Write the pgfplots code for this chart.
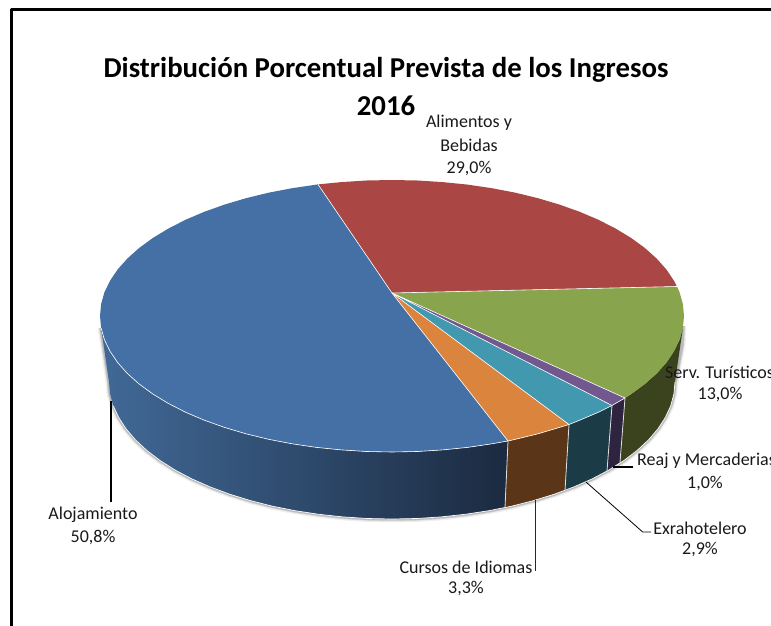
\documentclass[border=0pt]{standalone}
\usepackage{pgfplots}
\pgfplotsset{compat=1.18}
\usepackage{pgfplotstable}
\usepackage{fontspec}
\setmainfont{Carlito}
\definecolor{cBlue}{HTML}{4470A6}
\definecolor{cRed}{HTML}{AA4644}
\definecolor{cGreen}{HTML}{88A44D}
\definecolor{cPurple}{HTML}{71588F}
\definecolor{cTeal}{HTML}{4198AF}
\definecolor{cOrange}{HTML}{DB843D}
\definecolor{sGreen}{HTML}{3A421E}
\definecolor{sPurple}{HTML}{2E2440}
\definecolor{sTeal}{HTML}{1B3C47}
\definecolor{sOrange}{HTML}{5A3517}
\definecolor{sBlueA}{HTML}{416997}
\definecolor{sBlueB}{HTML}{2A4362}
\definecolor{sBlueC}{HTML}{1B2A40}
\pgfplotstableread{
x y
683 326
682 345
675 382
673.9 393.9
670.7 405.8
665.3 417.5
657.9 428.9
648.5 439.9
637.1 450.5
623.8 460.6
608.8 470.1
592.1 478.9
573.9 486.9
554.3 494.2
533.5 500.6
511.6 506.2
488.8 510.7
465.2 514.3
441.1 516.9
416.7 518.5
392 519
367.3 518.5
342.9 516.9
318.8 514.3
295.2 510.7
272.4 506.2
250.5 500.6
229.7 494.2
210.1 486.9
191.9 478.9
175.2 470.1
160.2 460.6
146.9 450.5
135.5 439.9
126.1 428.9
118.7 417.5
113.3 405.8
110.1 393.9
109 382
101.1 327.9
}\silhouette
\begin{document}
\begin{tikzpicture}
\clip (0,0) rectangle (771pt,626pt);
\begin{axis}[at={(0,0)},anchor=south west,scale only axis,width=771pt,height=626pt,
  xmin=0,xmax=771,ymin=0,ymax=626,y dir=reverse,hide axis,no markers,clip=true,
  every axis plot/.append style={line join=round}]
% frame
\addplot[black,line width=3.2pt] coordinates {(11.7,640) (11.7,9.3) (790,9.3)};
% shadow
\addplot[gray,opacity=.12,line width=7pt] table[x=x,y=y] {\silhouette};
\addplot[gray,opacity=.22,line width=4.5pt] table[x=x,y=y] {\silhouette};
\addplot[gray,opacity=.35,line width=3pt] table[x=x,y=y] {\silhouette};
% sides
\addplot[shade,shading angle=0,left color=sBlueA,middle color=sBlueB,right color=sBlueC,draw=none] coordinates {
(508,441)(491.9,443.8)(467.6,447.4)(442.7,449.9)(417.5,451.5)(392,452)(366.5,451.5)(341.3,449.9)(316.4,447.4)(292.1,443.8)(268.6,439.3)(246,433.8)(224.5,427.4)(204.3,420.2)(185.5,412.2)(168.3,403.4)(152.8,394)(139.1,384)(127.4,373.5)(117.6,362.5)(110,351.2)(104.4,339.6)(101.1,327.9)(109,382)(110.1,393.9)(113.3,405.8)(118.7,417.5)(126.1,428.9)(135.5,439.9)(146.9,450.5)(160.2,460.6)(175.2,470.1)(191.9,478.9)(210.1,486.9)(229.7,494.2)(250.5,500.6)(272.4,506.2)(295.2,510.7)(318.8,514.3)(342.9,516.9)(367.3,518.5)(392,519)(416.7,518.5)(441.1,516.9)(465.2,514.3)(488.8,510.7)(505,507.7)(508,441)};
\addplot[fill=sOrange,draw=none] coordinates {
(569,424.5)(559.5,427.4)(538,433.8)(515.4,439.3)(508,441)(505,507.7)(511.6,506.2)(533.5,500.6)(554.3,494.2)(565,490.4)(569,424.5)};
\addplot[fill=sTeal,draw=none] coordinates {
(612,405.5)(598.5,412.2)(579.7,420.2)(569,424.5)(565,490.4)(573.9,486.9)(592.1,478.9)(607,471)(612,405.5)};
\addplot[fill=sPurple,draw=none] coordinates {
(625,398)(612,405.5)(607,471)(620,462.5)(625,398)};
\addplot[fill=sGreen,draw=none] coordinates {
(682.9,327.9)(679.6,339.6)(674,351.2)(666.4,362.5)(656.6,373.5)(644.9,384)(631.2,394)(625,398)(620,462.5)(623.8,460.6)(637.1,450.5)(648.5,439.9)(657.9,428.9)(665.3,417.5)(670.7,405.8)(673.9,393.9)(675,382)(682.9,327.9)};
% side separators and lower rim
\addplot[white!75!gray,line width=.8pt] coordinates {(508,441)(505,507.7)};
\addplot[white!75!gray,line width=.8pt] coordinates {(569,424.5)(565,490.4)};
\addplot[white!75!gray,line width=.8pt] coordinates {(612,405.5)(607,471)};
\addplot[white!75!gray,line width=.8pt] coordinates {(625,398)(620,462.5)};
\addplot[white,line width=.7pt] coordinates {(675,382)(673.9,393.9)(670.7,405.8)(665.3,417.5)(657.9,428.9)(648.5,439.9)(637.1,450.5)(623.8,460.6)(608.8,470.1)(592.1,478.9)(573.9,486.9)(554.3,494.2)(533.5,500.6)(511.6,506.2)(488.8,510.7)(465.2,514.3)(441.1,516.9)(416.7,518.5)(392,519)(367.3,518.5)(342.9,516.9)(318.8,514.3)(295.2,510.7)(272.4,506.2)(250.5,500.6)(229.7,494.2)(210.1,486.9)(191.9,478.9)(175.2,470.1)(160.2,460.6)(146.9,450.5)(135.5,439.9)(126.1,428.9)(118.7,417.5)(113.3,405.8)};
% top wedges
\addplot[fill=cBlue,draw=none] coordinates {
(392,293)(318,184.4)(316.4,184.6)(292.1,188.2)(268.6,192.7)(246,198.2)(224.5,204.6)(204.3,211.8)(185.5,219.8)(168.3,228.6)(152.8,238)(139.1,248)(127.4,258.5)(117.6,269.5)(110,280.8)(104.4,292.4)(101.1,304.1)(100,316)(101.1,327.9)(104.4,339.6)(110,351.2)(117.6,362.5)(127.4,373.5)(139.1,384)(152.8,394)(168.3,403.4)(185.5,412.2)(204.3,420.2)(224.5,427.4)(246,433.8)(268.6,439.3)(292.1,443.8)(316.4,447.4)(341.3,449.9)(366.5,451.5)(392,452)(417.5,451.5)(442.7,449.9)(467.6,447.4)(491.9,443.8)(508,441)(392,293)};
\addplot[fill=cRed,draw=none] coordinates {
(392,293)(318,184.4)(341.3,182.1)(366.5,180.5)(392,180)(417.5,180.5)(442.7,182.1)(467.6,184.6)(491.9,188.2)(515.4,192.7)(538,198.2)(559.5,204.6)(579.7,211.8)(598.5,219.8)(615.7,228.6)(631.2,238)(644.9,248)(656.6,258.5)(666.4,269.5)(674,280.8)(677,286.5)(392,293)};
\addplot[fill=cGreen,draw=none] coordinates {
(392,293)(677,286.5)(679.6,292.4)(682.9,304.1)(684,316)(682.9,327.9)(679.6,339.6)(674,351.2)(666.4,362.5)(656.6,373.5)(644.9,384)(631.2,394)(625,398)(392,293)};
\addplot[fill=cPurple,draw=none] coordinates {
(392,293)(625,398)(615.7,403.4)(612,405.5)(392,293)};
\addplot[fill=cTeal,draw=none] coordinates {
(392,293)(612,405.5)(598.5,412.2)(579.7,420.2)(569,424.5)(392,293)};
\addplot[fill=cOrange,draw=none] coordinates {
(392,293)(569,424.5)(559.5,427.4)(538,433.8)(515.4,439.3)(508,441)(392,293)};
% white wedge edges
\addplot[white,line width=.6pt] coordinates {(318,184.4)(392,293)(677,286.5)};
\addplot[white,line width=.6pt] coordinates {(625,398)(392,293)(612,405.5)};
\addplot[white,line width=.6pt] coordinates {(569,424.5)(392,293)(508,441)};
\addplot[white,line width=.6pt] coordinates {(625,398)(612,405.5)(598.5,412.2)(579.7,420.2)(569,424.5)(559.5,427.4)(538,433.8)(515.4,439.3)(508,441)(491.9,443.8)(467.6,447.4)(442.7,449.9)(417.5,451.5)(392,452)(366.5,451.5)(341.3,449.9)(316.4,447.4)(292.1,443.8)(268.6,439.3)(246,433.8)(224.5,427.4)(204.3,420.2)(185.5,412.2)(168.3,403.4)(152.8,394)(139.1,384)(127.4,373.5)(117.6,362.5)(110,351.2)(104.4,339.6)(101.1,327.9)};
% leader lines
\addplot[black,line width=1.2pt] coordinates {(111,401)(111,502)};
\addplot[black!85,line width=1pt] coordinates {(535.8,500)(535.8,571)};
\addplot[black,line width=.8pt] coordinates {(586,482)(642.7,532)(651,532)};
\addplot[black,line width=1.5pt] coordinates {(613,467)(633,467)};
\end{axis}
% labels, positions measured from the lower left of the picture
\begin{scope}[every node/.style={inner sep=0pt,font=\fontsize{18}{20}\selectfont,text=black!90}]
\node[font=\bfseries\fontsize{28.8}{32}\selectfont,text=black] at (386pt,556pt) {Distribución Porcentual Prevista de los Ingresos};
\node[font=\bfseries\fontsize{28.8}{32}\selectfont,text=black] at (386pt,520pt) {2016};
\node at (469pt,503pt) {Alimentos y};
\node at (469pt,481pt) {Bebidas};
\node at (469pt,457pt) {29,0\%};
\node[anchor=west] at (665pt,254pt) {Serv. Turísticos};
\node at (720pt,231pt) {13,0\%};
\node[anchor=west] at (637pt,165pt) {Reaj y Mercaderias};
\node at (705pt,142pt) {1,0\%};
\node at (700pt,98pt) {Exrahotelero};
\node at (700pt,76pt) {2,9\%};
\node at (466pt,59pt) {Cursos de Idiomas};
\node at (466pt,37pt) {3,3\%};
\node at (93pt,111pt) {Alojamiento};
\node at (93pt,88pt) {50,8\%};
\end{scope}
\end{tikzpicture}
\end{document}
